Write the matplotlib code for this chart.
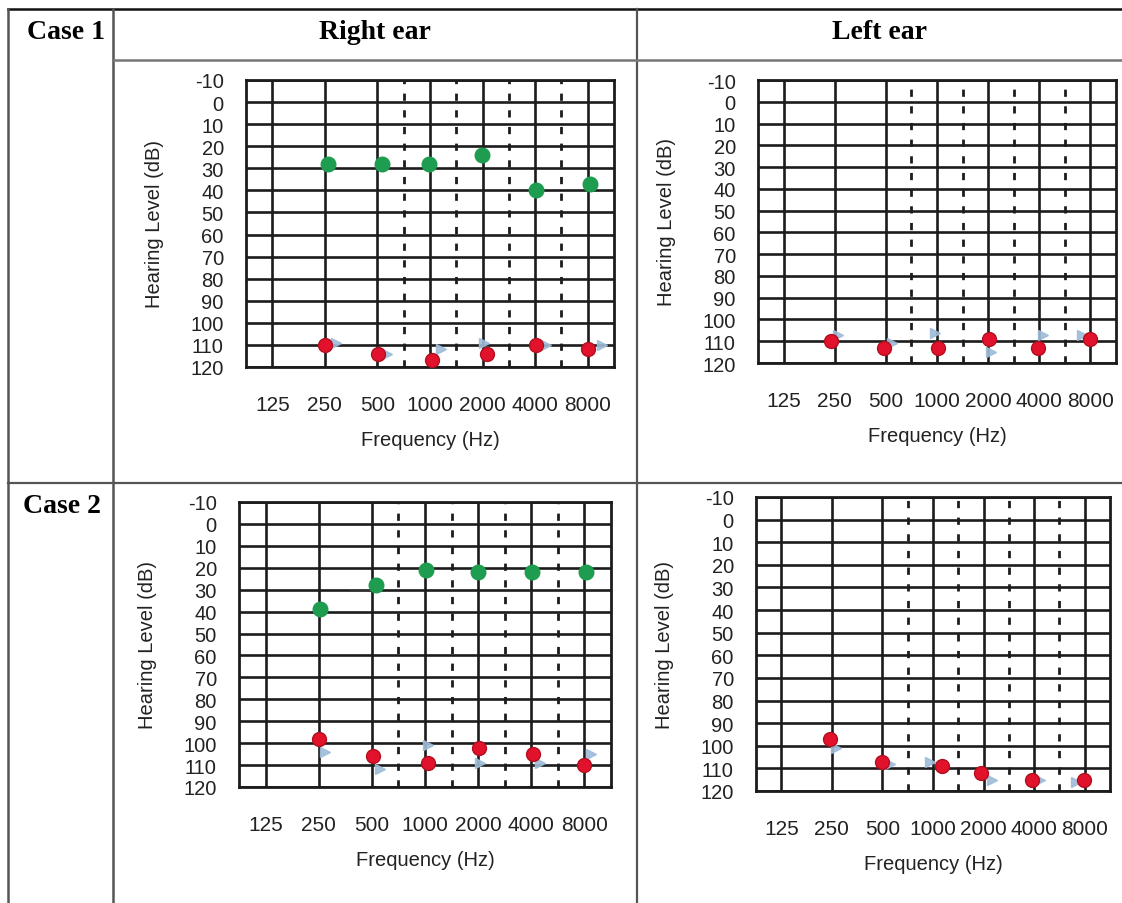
import numpy as np
import matplotlib
matplotlib.use('Agg')
from matplotlib import pyplot as plt
from matplotlib.lines import Line2D

W, H = 1122, 904

# audiogram frequencies (Hz) and hearing levels (dB)
tick_freqs = [125, 250, 500, 1000, 2000, 4000, 8000]
freqs = [250, 500, 1000, 2000, 4000, 8000]
db_ticks = list(range(-10, 121, 10))

case1_right_green = [28, 28, 28, 24, 40, 37]
case1_right_red = [110, 114, 117, 114, 110, 112]
case1_right_blue = [109, 114, 112, 109, 110, 110]

case1_left_red = [110, 113, 113, 109, 113, 109]
case1_left_blue = [107, 111, 106, 115, 107, 107]

case2_right_green = [39, 28, 21, 22, 22, 22]
case2_right_red = [98, 106, 109, 102, 105, 110]
case2_right_blue = [104, 112, 101, 109, 109, 105]

case2_left_red = [97, 107, 109, 112, 115, 115]
case2_left_blue = [101, 108, 107, 115, 115, 116]

row_labels = ['Case 1', 'Case 2']
col_labels = ['Right ear', 'Left ear']

GREEN = '#1e9c50'
RED = '#e3122c'
BLUE = '#9fbcd8'
GRID = '#1c1c1c'


def px_rect(left, top, right, bottom):
    return [left / W, 1 - bottom / H, (right - left) / W, (bottom - top) / H]


def fig_line(fig, xs, ys, color='#555555', lw=1.6):
    fig.add_artist(Line2D([x / W for x in xs], [1 - y / H for y in ys],
                          color=color, lw=lw, transform=fig.transFigure))


def draw_audiogram(ax, green=None, red=None, blue=None,
                   green_dodge=None, red_dodge=None, blue_dodge=None):
    ax.set_xscale('log', base=2)
    ax.set_xlim(tick_freqs[0] / np.sqrt(2), tick_freqs[-1] * np.sqrt(2))
    ax.set_ylim(120, -10)
    ax.minorticks_off()

    for f in tick_freqs:
        ax.axvline(f, color=GRID, lw=1.9, zorder=1)
    for a, b in zip(tick_freqs[2:-1], tick_freqs[3:]):
        ax.axvline(np.sqrt(a * b), color=GRID, lw=2.0, ls=(0, (2.6, 3.4)), zorder=1)
    for d in db_ticks:
        ax.axhline(d, color=GRID, lw=1.9, zorder=1)

    ax.set_xticks(tick_freqs)
    ax.set_xticklabels([str(f) for f in tick_freqs])
    ax.set_yticks(db_ticks)
    ax.set_yticklabels([str(d) for d in db_ticks])
    ax.tick_params(axis='x', length=0, pad=20, labelsize=15, labelcolor='#222222')
    ax.tick_params(axis='y', length=0, pad=16, labelsize=14.5, labelcolor='#222222')
    for s in ax.spines.values():
        s.set_color(GRID)
        s.set_linewidth(2.0)

    ax.set_xlabel('Frequency (Hz)', fontsize=14.5, color='#222222', labelpad=12)
    ax.set_ylabel('Hearing Level (dB)', fontsize=14.5, color='#222222', labelpad=19)

    fx = np.array(freqs, dtype=float)
    if green is not None:
        ax.plot(fx * 2.0 ** np.array(green_dodge), green, 'o', ms=10.5,
                color=GREEN, mec=GREEN, zorder=4, clip_on=False)
    if blue is not None:
        ax.plot(fx * 2.0 ** np.array(blue_dodge), blue, '>', ms=7.5,
                color=BLUE, mec=BLUE, alpha=0.9, zorder=3, clip_on=False)
    if red is not None:
        ax.plot(fx * 2.0 ** np.array(red_dodge), red, 'o', ms=10,
                color=RED, mec='#b0101f', mew=1.0, zorder=5, clip_on=False)


fig = plt.figure(figsize=(W / 100, H / 100), dpi=100)
plt.rcParams['font.family'] = ['Liberation Sans', 'DejaVu Sans']

# table frame
fig_line(fig, [8, W], [10, 10], color='#111111', lw=1.8)
fig_line(fig, [8, 8], [10, H], color='#555555', lw=1.8)
fig_line(fig, [113, 113], [10, H], color='#555555', lw=1.8)
fig_line(fig, [637, 637], [10, H], color='#555555', lw=1.6)
fig_line(fig, [113, W], [61, 61], color='#777777', lw=1.8)
fig_line(fig, [8, W], [484, 484], color='#555555', lw=1.6)

fig.text(27 / W, 1 - 39 / H, row_labels[0], family='Liberation Serif',
         weight='bold', fontsize=20, ha='left', va='baseline')
fig.text(23 / W, 1 - 513 / H, row_labels[1], family='Liberation Serif',
         weight='bold', fontsize=20, ha='left', va='baseline')
fig.text(375 / W, 1 - 39 / H, col_labels[0], family='Liberation Serif',
         weight='bold', fontsize=20, ha='center', va='baseline')
fig.text(880 / W, 1 - 39 / H, col_labels[1], family='Liberation Serif',
         weight='bold', fontsize=20, ha='center', va='baseline')

ax1 = fig.add_axes(px_rect(246, 81, 614, 368))
draw_audiogram(ax1, green=case1_right_green, red=case1_right_red, blue=case1_right_blue,
               green_dodge=[0.06, 0.09, -0.01, -0.02, 0.02, 0.05],
               red_dodge=[0.0, 0.02, 0.03, 0.08, 0.02, 0.01],
               blue_dodge=[0.22, 0.18, 0.21, 0.02, 0.21, 0.27])

ax2 = fig.add_axes(px_rect(758, 81, 1116, 364))
draw_audiogram(ax2, red=case1_left_red, blue=case1_left_blue,
               red_dodge=[-0.08, -0.03, 0.01, 0.01, -0.02, -0.01],
               blue_dodge=[0.07, 0.12, -0.03, 0.06, 0.08, -0.16])

ax3 = fig.add_axes(px_rect(239, 503, 611, 788))
draw_audiogram(ax3, green=case2_right_green, red=case2_right_red, blue=case2_right_blue,
               green_dodge=[0.02, 0.08, 0.02, -0.01, 0.01, 0.03],
               red_dodge=[0.0, 0.02, 0.06, 0.01, 0.03, 0.0],
               blue_dodge=[0.11, 0.15, 0.06, 0.03, 0.16, 0.13])
# short stray stroke left of the 500 Hz point
ax3.plot([freqs[1] * 2 ** -0.42, freqs[1]], [case2_right_green[1] + 2] * 2,
         color='#333333', lw=1.0, zorder=2)

ax4 = fig.add_axes(px_rect(756, 498, 1110, 792))
draw_audiogram(ax4, red=case2_left_red, blue=case2_left_blue,
               red_dodge=[-0.03, -0.01, 0.18, -0.05, -0.05, -0.02],
               blue_dodge=[0.08, 0.14, -0.05, 0.16, 0.11, -0.18])

fig.savefig('out.png', dpi=100)
